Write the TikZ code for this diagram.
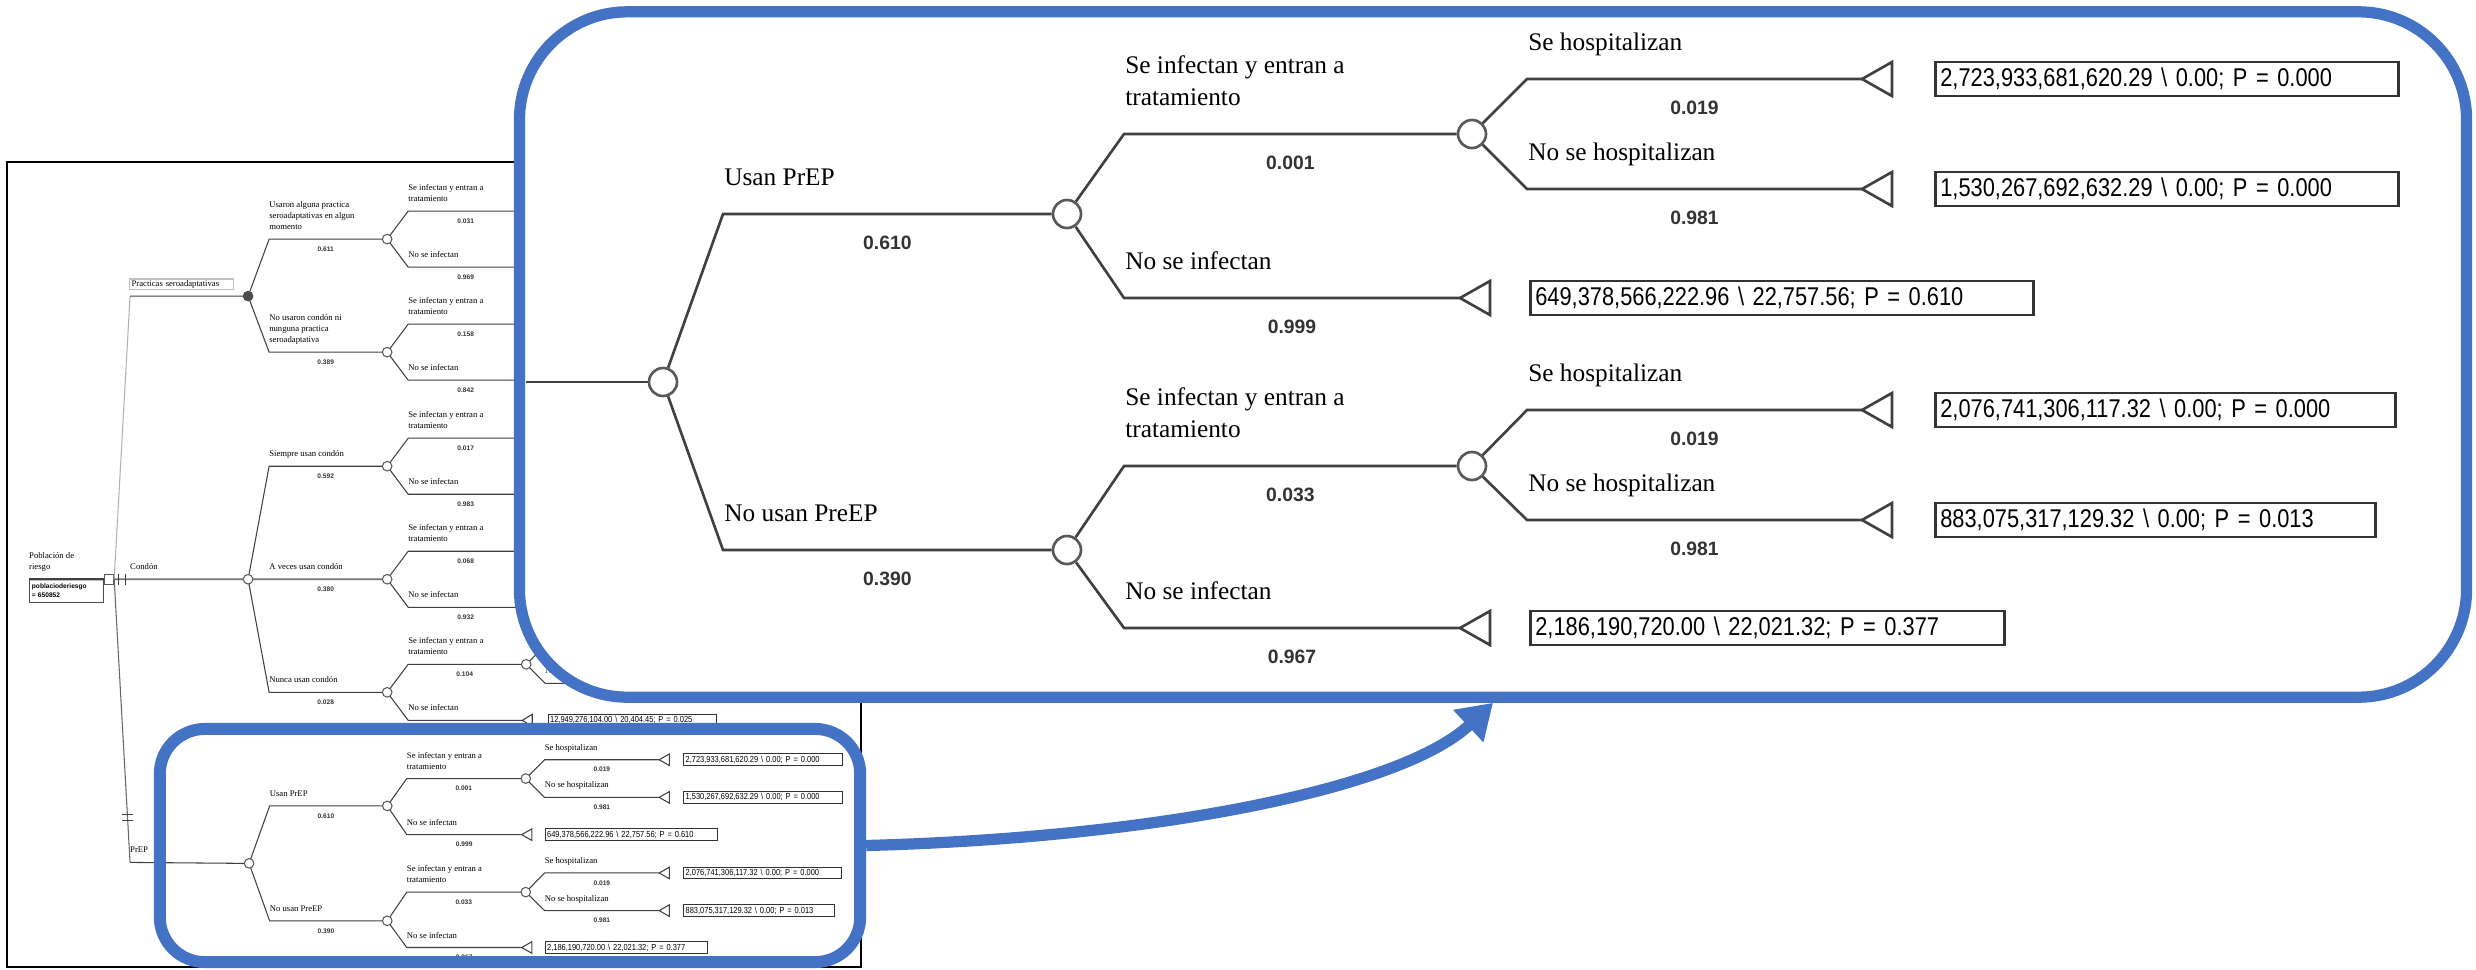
\documentclass[tikz,border=0pt]{standalone}
\usepackage{fontspec}
\usetikzlibrary{arrows.meta}
\newfontfamily\treeserif{Liberation Serif}
\newfontfamily\treesans{Liberation Sans}
\newfontfamily\treenarrow[FakeStretch=0.85]{Liberation Sans}
\definecolor{zoomblue}{HTML}{4472C4}
\newcommand\lblfont{\treeserif\fontsize{7.2}{9.1}\selectfont}
\newcommand\probfont{\treesans\bfseries\fontsize{5.5}{7.5}\selectfont}
\newcommand\payfont{\treenarrow\fontsize{7.3}{8.5}\selectfont}
\newcommand\preptree[1]{%
\node[chance] (#1r) at (0,0) {};
\coordinate (#1u) at (60,-168);
\node[chance] (#1a) at (404,-168) {};
\coordinate (#1d) at (60,168);
\node[chance] (#1b) at (404,168) {};
\draw[tl] (#1r) -- (#1u) -- node[lbl,at start] {Usan PrEP} node[prob] {0.610} (#1a);
\draw[tl] (#1r) -- (#1d) -- node[lbl,at start] {No usan PreEP} node[prob] {0.390} (#1b);
\coordinate (#1au) at (461,-248);
\node[chance] (#1c) at (809,-248) {};
\coordinate (#1ad) at (461,-84);
\coordinate (#1t1) at (797,-84);
\draw[tl] (#1a) -- (#1au) -- node[lbl,at start] {Se infectan y entran a\\tratamiento} node[prob] {0.001} (#1c);
\draw[tl] (#1a) -- (#1ad) -- node[lbl,at start] {No se infectan} node[prob] {0.999} (#1t1);
\draw[tl,fill=white] (#1t1) -- ++(30,-17) -- ++(0,34) -- cycle;
\node[paybox=4.93cm] (#1p1) at (866,-84) {649,378,566,222.96 \textbackslash\ 22,757.56; P = 0.610};
\coordinate (#1cu) at (864,-303);
\coordinate (#1t2) at (1199,-303);
\coordinate (#1cd) at (864,-193);
\coordinate (#1t3) at (1199,-193);
\draw[tl] (#1c) -- (#1cu) -- node[lbl,at start] {Se hospitalizan} node[prob] {0.019} (#1t2);
\draw[tl] (#1c) -- (#1cd) -- node[lbl,at start] {No se hospitalizan} node[prob] {0.981} (#1t3);
\draw[tl,fill=white] (#1t2) -- ++(30,-17) -- ++(0,34) -- cycle;
\draw[tl,fill=white] (#1t3) -- ++(30,-17) -- ++(0,34) -- cycle;
\node[paybox=4.53cm] (#1p2) at (1271,-303) {2,723,933,681,620.29 \textbackslash\ 0.00; P = 0.000};
\node[paybox=4.53cm] (#1p3) at (1271,-193) {1,530,267,692,632.29 \textbackslash\ 0.00; P = 0.000};
\coordinate (#1bu) at (461,84);
\node[chance] (#1e) at (809,84) {};
\coordinate (#1bd) at (461,246);
\coordinate (#1t4) at (797,246);
\draw[tl] (#1b) -- (#1bu) -- node[lbl,at start] {Se infectan y entran a\\tratamiento} node[prob] {0.033} (#1e);
\draw[tl] (#1b) -- (#1bd) -- node[lbl,at start] {No se infectan} node[prob] {0.967} (#1t4);
\draw[tl,fill=white] (#1t4) -- ++(30,-17) -- ++(0,34) -- cycle;
\node[paybox=4.64cm] (#1p4) at (866,246) {2,186,190,720.00 \textbackslash\ 22,021.32; P = 0.377};
\coordinate (#1eu) at (864,28);
\coordinate (#1t5) at (1199,28);
\coordinate (#1ed) at (864,138);
\coordinate (#1t6) at (1199,138);
\draw[tl] (#1e) -- (#1eu) -- node[lbl,at start] {Se hospitalizan} node[prob] {0.019} (#1t5);
\draw[tl] (#1e) -- (#1ed) -- node[lbl,at start] {No se hospitalizan} node[prob] {0.981} (#1t6);
\draw[tl,fill=white] (#1t5) -- ++(30,-17) -- ++(0,34) -- cycle;
\draw[tl,fill=white] (#1t6) -- ++(30,-17) -- ++(0,34) -- cycle;
\node[paybox=4.50cm] (#1p5) at (1271,28) {2,076,741,306,117.32 \textbackslash\ 0.00; P = 0.000};
\node[paybox=4.30cm] (#1p6) at (1271,138) {883,075,317,129.32 \textbackslash\ 0.00; P = 0.013};
}

\begin{document}
\begin{tikzpicture}[x=0.01cm,y=-0.01cm,
  tl/.style={draw=black!75},
  chance/.style={circle,draw=black!65,fill=white,minimum size=0.28cm,inner sep=0pt},
  deci/.style={rectangle,draw=black!65,fill=white,minimum size=0.29cm,inner sep=0pt},
  lbl/.style={anchor=south west,yshift=0.27cm,inner sep=0pt,text depth=0pt,align=left,font=\lblfont},
  prob/.style={midway,yshift=-0.29cm,inner sep=0pt,text=black!80,font=\probfont},
  paybox/.style={draw=black!80,fill=white,anchor=west,text width=#1,inner xsep=0.05cm,inner ysep=0pt,minimum height=0.34cm,font=\payfont},
  varbox/.style={draw=black!70,anchor=north west,text width=2cm,inner xsep=0.08cm,inner ysep=0.04cm,minimum height=0.67cm,align=left,font=\probfont},
  namebox/.style={draw=black!25,anchor=south west,text width=2.9cm,inner xsep=0.07cm,inner ysep=0pt,minimum height=0.32cm,font=\lblfont},
  zoomframe/.style={draw=zoomblue,line width=3.2pt,inner sep=0pt}]
\useasboundingbox (0,0) rectangle (2476,969);
\draw[line width=0.8pt] (7,162) rectangle (861,967);
\begin{scope}[scale=0.342,transform shape,x=0.02924cm,y=-0.02924cm,line width=0.3pt]
\node[deci] (root) at (109,579) {};
\node[lbl] at (29,579) {Población de\\riesgo};
\node[varbox] (rootvar) at (29,579) {poblacioderiesgo\\= 650852};
\draw[tl,line width=0.6pt] (rootvar.north west) -- (root);
\coordinate (prac) at (130,296);
\coordinate (prep) at (130,862);
\node[chance,fill=black!70,draw=black!70] (pracc) at (248,296) {};
\node[chance] (cond) at (248,579) {};
\draw[draw=black!30] (root.east) -- (prac);
\draw[draw=black!60] (root.east) -- (prep);
\draw[draw=black!55,line width=0.5pt] (root) -- (cond);
\node[lbl] at (130,579) {Condón};
\node[lbl] at (130,862) {PrEP};
\node[namebox] (pracbox) at (129,290) {Practicas seroadaptativas};
\draw[tl] (prac) -- (pracc);
\draw[tl] (118,574) -- (118,585) (125,574) -- (125,585);
\draw[tl] (122,814) -- (133,814) (122,820) -- (133,820);
\coordinate (pu) at (269,239);
\node[chance] (pa) at (387,239) {};
\coordinate (pd) at (269,352);
\node[chance] (pb) at (387,352) {};
\draw[tl] (pracc) -- (pu) -- node[lbl,at start] {Usaron alguna practica\\seroadaptativas en algun\\momento} node[prob] {0.611} (pa);
\draw[tl] (pracc) -- (pd) -- node[lbl,at start] {No usaron condón ni\\nunguna practica\\seroadaptativa} node[prob] {0.389} (pb);
\coordinate (cu) at (269,466);
\node[chance] (ca) at (387,466) {};
\coordinate (cm) at (269,579);
\node[chance] (cb) at (387,579) {};
\coordinate (cd) at (269,692);
\node[chance] (cc) at (387,692) {};
\draw[tl] (cond) -- (cu) -- node[lbl,at start] {Siempre usan condón} node[prob] {0.592} (ca);
\draw[draw=black!55,line width=0.5pt] (cond) -- (cm) -- node[lbl,at start] {A veces usan condón} node[prob] {0.380} (cb);
\draw[tl] (cond) -- (cd) -- node[lbl,at start] {Nunca usan condón} node[prob] {0.028} (cc);
\foreach \n/\y/\pinf/\pnot in {pa/239/0.031/0.969,pb/352/0.158/0.842,ca/466/0.017/0.983,cb/579/0.068/0.932}{
  \coordinate (\n-u) at (408,\y-28);
  \coordinate (\n-ue) at (523,\y-28);
  \coordinate (\n-d) at (408,\y+28);
  \coordinate (\n-de) at (523,\y+28);
  \draw[tl] (\n) -- (\n-u) -- node[lbl,at start] {Se infectan y entran a\\tratamiento} node[prob] {\pinf} (\n-ue);
  \draw[tl] (\n) -- (\n-d) -- node[lbl,at start] {No se infectan} node[prob] {\pnot} (\n-de);
}
\coordinate (cc-u) at (408,664);
\node[chance] (ccn) at (526,664) {};
\coordinate (cc-d) at (408,720);
\coordinate (cc-t) at (522,720);
\draw[tl] (cc) -- (cc-u) -- node[lbl,at start] {Se infectan y entran a\\tratamiento} node[prob] {0.104} (ccn);
\draw[tl] (cc) -- (cc-d) -- node[lbl,at start] {No se infectan} (cc-t);
\draw[tl,fill=white] (cc-t) -- ++(10,-6) -- ++(0,12) -- cycle;
\node[paybox=4.81cm] (ccp) at (548,720) {12,949,276,104.00 \textbackslash\ 20,404.45; P = 0.025};
\coordinate (ccn-u) at (545,645);
\coordinate (ccn-ue) at (660,645);
\coordinate (ccn-d) at (545,683);
\coordinate (ccn-de) at (660,683);
\draw[tl] (ccn) -- (ccn-u) -- node[lbl,at start] {Se hospitalizan} (ccn-ue);
\draw[tl] (ccn) -- (ccn-d) -- node[lbl,at start] {No se hospitalizan} (ccn-de);
\begin{scope}[shift={(249,863)},x=0.01cm,y=-0.01cm]
\preptree{s}
\end{scope}
\draw[tl] (prep) -- (sr);
\end{scope}
\node[zoomframe,fill=white,minimum width=19.46cm,minimum height=6.85cm,rounded corners=1.08cm] (bigframe) at (1493,354.5) {};
\begin{scope}[shift={(663,382)},line width=0.75pt]
\preptree{b}
\end{scope}
\coordinate (bstart) at (526,382);
\draw[tl,line width=0.75pt] (bstart) -- (br);
\node[zoomframe,line width=3.4pt,minimum width=7cm,minimum height=2.33cm,rounded corners=0.45cm] (smallframe) at (510,845.5) {};
\draw[draw=zoomblue,line width=3.2pt,-{Triangle[length=0.34cm,width=0.42cm]}] (smallframe.east) .. controls (1150,838) and (1400,790) .. (bigframe.south);
\end{tikzpicture}
\end{document}
